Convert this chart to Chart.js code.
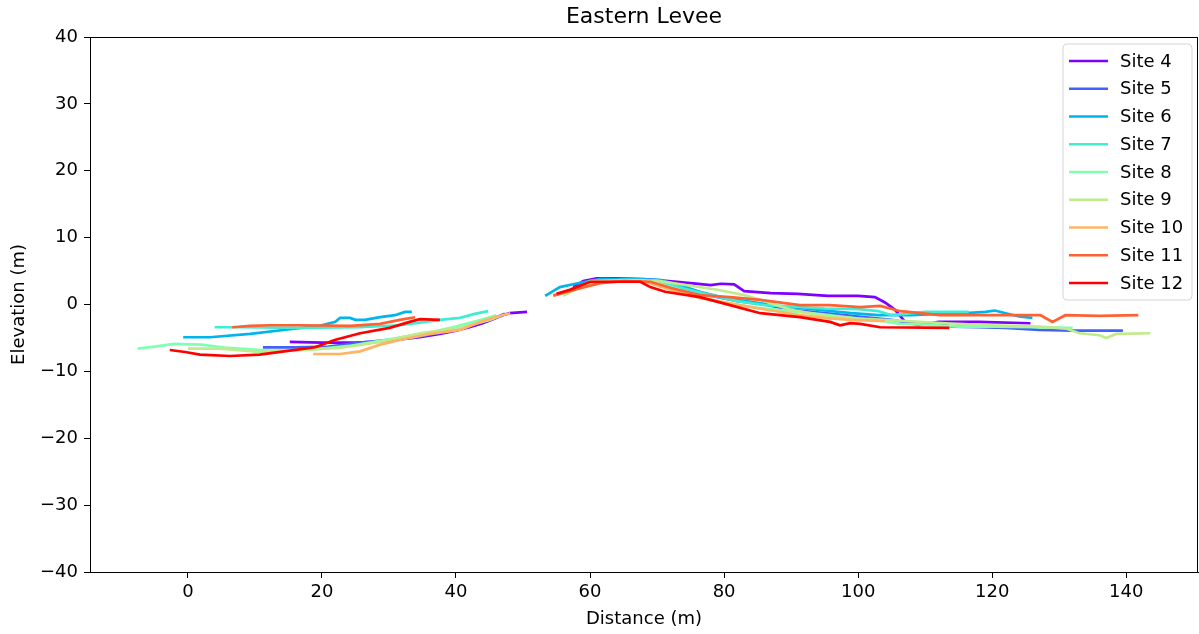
<!DOCTYPE html>
<html>
<head>
<meta charset="utf-8">
<script src="https://cdn.jsdelivr.net/npm/chart.js@4/dist/chart.umd.min.js"></script>
<style>
  body { margin: 0; background: #fff; }
  #wrap { width: 1199px; height: 634px; }
</style>
</head>
<body>
<div id="wrap"><canvas id="leveeChart" width="1199" height="634"></canvas></div>
<script>
// Perfiles del dique este: cada sitio tiene un tramo izquierdo y otro derecho (null = hueco)
const siteNames = ['Site 4', 'Site 5', 'Site 6', 'Site 7', 'Site 8', 'Site 9', 'Site 10', 'Site 11', 'Site 12'];
const siteColors = ['#8000ff', '#4062fa', '#00b4ec', '#40ecd4', '#80ffb4', '#c0eb8d', '#ffb462', '#ff6232', '#ff0000'];

const site4X = [15.2, 20, 25, 28, 31, 34.6, 37.6, 40, 42, 44, 45.8, 47, 48, 50.6, null,
  57.5, 59, 61, 64, 68, 70.4, 73, 75, 78, 79.5, 81.5, 83, 87, 91, 95.5, 100, 102.5, 104, 105.5, 107, 109, 112, 118, 125.7];
const site4Y = [-5.6, -5.7, -5.7, -5.6, -5.3, -4.9, -4.4, -3.9, -3.4, -2.8, -2.1, -1.6, -1.3, -1.1, null,
  2.6, 3.5, 3.9, 3.9, 3.8, 3.6, 3.4, 3.2, 2.9, 3.1, 3.0, 2.0, 1.7, 1.6, 1.3, 1.3, 1.1, 0.3, -0.8, -2.6, -3.1, -2.6, -2.6, -2.8];

const site5X = [11.2, 16, 21, 25.7, 30, 34, 37.6, 40.6, 42, 45, 47.3, null,
  56, 58, 60, 62, 70, 74, 78, 82, 86, 90, 95, 100, 105, 108, 112, 114, 118, 122, 127, 132, 139.5];
const site5Y = [-6.4, -6.4, -6.3, -5.7, -5.3, -4.9, -4.2, -3.6, -3.1, -2.3, -1.4, null,
  1.6, 2.6, 3.5, 3.8, 3.6, 2.6, 1.3, 0.5, 0, -0.8, -1.3, -1.8, -2.3, -2.8, -2.9, -3.3, -3.4, -3.5, -3.8, -3.9, -3.9];

const site6X = [-0.7, 3.3, 9.3, 15.2, 19.7, 22, 22.7, 24.2, 25, 26.4, 28.7, 30.9, 32.4, 33.4, null,
  53.3, 55.5, 57.8, 61.5, 66, 70.4, 73, 76.4, 80, 84, 88, 91.3, 95, 99, 103, 108, 112, 116, 119, 120.4, 122, 124, 126];
const site6Y = [-4.9, -4.9, -4.4, -3.7, -3.2, -2.6, -2.0, -2.0, -2.3, -2.3, -1.9, -1.6, -1.1, -1.1, null,
  1.3, 2.6, 3.1, 3.8, 3.8, 3.7, 3.0, 1.9, 1.0, 0.4, -0.2, -0.5, -0.9, -1.3, -1.6, -1.6, -1.4, -1.3, -1.1, -0.9, -1.3, -1.8, -2.0];

const site7X = [4, 7.8, 16.7, 25.7, 31.6, 34.6, 37.6, 40.6, 42.8, 44.8, null,
  56, 60, 65, 70, 74, 78, 82, 86, 90, 95, 100, 103, 105, 107, 110, 116.5];
const site7Y = [-3.4, -3.4, -3.5, -3.4, -3.1, -2.7, -2.3, -2.0, -1.4, -1.0, null,
  1.8, 3.3, 3.7, 3.6, 2.4, 1.4, 0.5, -0.1, -0.3, -0.6, -0.7, -1.0, -1.6, -1.4, -1.1, -1.1];

const site8X = [-7.5, -5, -2, 2, 6, 12, 18, 24, 30, 36, 40, 44, 46, null,
  56, 58, 61, 68, 72, 76, 80, 85, 90, 95, 100, 104, 106, 110, 115, 120, 126, 132];
const site8Y = [-6.6, -6.3, -5.9, -6.0, -6.5, -6.9, -6.8, -6.2, -5.2, -4.2, -3.3, -2.2, -1.6, null,
  1.4, 2.3, 3.5, 3.6, 2.6, 1.1, 0.2, -0.5, -1.0, -1.5, -2.1, -2.5, -2.9, -3.0, -3.3, -3.3, -3.4, -3.5];

const site9X = [0, 4.8, 10.7, 16.7, 22.7, 28.7, 34.6, 40.6, 45, 46.6, null,
  56, 57.5, 60, 70.4, 75, 79, 83, 86, 90, 95, 100, 106, 113, 120, 127, 131, 133, 136, 137, 138.5, 143.6];
const site9Y = [-6.6, -6.6, -7.1, -6.8, -6.5, -5.6, -4.3, -3.5, -2.3, -1.7, null,
  1.3, 2.1, 3.5, 3.5, 2.8, 2.2, 1.4, 0.5, -0.8, -1.7, -2.1, -2.4, -2.8, -3.1, -3.3, -3.6, -4.3, -4.6, -5.0, -4.4, -4.3];

const site10X = [18.7, 22.7, 25.7, 28.7, 31.6, 36.1, 40.6, 43.6, 45.8, 48.1, null,
  54.5, 57, 60, 68, 72, 76.4, 82.4, 87, 91.3, 95, 98.8, 104];
const site10Y = [-7.4, -7.4, -7.0, -6.0, -5.3, -4.4, -3.8, -2.6, -1.9, -1.3, null,
  1.4, 2.0, 3.3, 3.5, 2.2, 1.0, -0.1, -0.9, -1.6, -2.0, -2.3, -2.5];

const site11X = [6.6, 9.3, 12.2, 16.7, 24.2, 28.7, 31.6, 33.9, null,
  54.5, 58, 61.5, 65, 69, 72, 76.4, 80.9, 85.4, 91.3, 95.8, 100.3, 103.3, 106.3, 109.3, 112.2, 121, 127.2, 129, 130.9, 136, 141.8];
const site11Y = [-3.4, -3.2, -3.1, -3.1, -3.2, -2.9, -2.3, -1.9, null,
  1.3, 2.3, 3.2, 3.5, 3.4, 2.5, 1.4, 1.1, 0.7, -0.1, -0.1, -0.4, -0.2, -1.0, -1.3, -1.6, -1.6, -1.6, -2.6, -1.6, -1.7, -1.6];

const site12X = [-2.7, -0.4, 1.8, 6.3, 10.7, 15.2, 19, 21.9, 25.7, 30.1, 33.1, 34.6, 37.6, null,
  55, 57, 60, 67.5, 69, 71.2, 76.4, 80.9, 85.4, 91.3, 95.8, 97.3, 98.8, 100.3, 103.3, 113.6];
const site12Y = [-6.8, -7.1, -7.5, -7.7, -7.5, -6.9, -6.4, -5.3, -4.3, -3.5, -2.6, -2.2, -2.3, null,
  1.6, 2.2, 3.4, 3.4, 2.6, 1.9, 1.1, -0.1, -1.3, -1.9, -2.6, -3.1, -2.8, -2.9, -3.4, -3.5];

const siteXs = [site4X, site5X, site6X, site7X, site8X, site9X, site10X, site11X, site12X];
const siteYs = [site4Y, site5Y, site6Y, site7Y, site8Y, site9Y, site10Y, site11Y, site12Y];

const xTicks = [0, 20, 40, 60, 80, 100, 120, 140];
const yTicks = [-40, -30, -20, -10, 0, 10, 20, 30, 40];
const chartTitle = 'Eastern Levee';

const FONT = 'DejaVu Sans';

const datasets = siteNames.map((name, i) => ({
    label: name,
    data: siteXs[i].map((x, j) => ({ x: x, y: siteYs[i][j] })),
    borderColor: siteColors[i],
    backgroundColor: siteColors[i],
    borderWidth: 2.7,
    pointRadius: 0,
    showLine: true,
    spanGaps: false,
    tension: 0,
    order: siteNames.length - i
}));

// Título centrado en el área del gráfico, marco y leyenda estilo matplotlib
const framePlugin = {
    id: 'frame',
    afterDraw(chart) {
        const c = chart.ctx;
        const a = chart.chartArea;
        c.save();
        c.strokeStyle = '#000';
        c.lineWidth = 1;
        c.strokeRect(a.left + 0.5, a.top + 0.5, a.right - a.left - 1, a.bottom - a.top);

        c.fillStyle = '#000';
        c.font = '22px "' + FONT + '"';
        c.textAlign = 'center';
        c.textBaseline = 'middle';
        c.fillText(chartTitle, (a.left + a.right) / 2, 17);

        // leyenda
        const bx = 1063, by = 44, bw = 129, bh = 256, r = 4;
        c.beginPath();
        c.moveTo(bx + r, by);
        c.arcTo(bx + bw, by, bx + bw, by + bh, r);
        c.arcTo(bx + bw, by + bh, bx, by + bh, r);
        c.arcTo(bx, by + bh, bx, by, r);
        c.arcTo(bx, by, bx + bw, by, r);
        c.closePath();
        c.fillStyle = 'rgba(255,255,255,0.8)';
        c.fill();
        c.strokeStyle = '#d5d5d5';
        c.lineWidth = 1;
        c.stroke();

        c.font = '18px "' + FONT + '"';
        c.textBaseline = 'middle';
        c.textAlign = 'left';
        siteNames.forEach((name, i) => {
            const y = 61 + i * 27.75;
            c.strokeStyle = siteColors[i];
            c.lineWidth = 2.7;
            c.beginPath();
            c.moveTo(1069, y);
            c.lineTo(1108, y);
            c.stroke();
            c.fillStyle = '#000';
            c.fillText(name, 1120, y + 1);
        });
        c.restore();
    }
};

const ctx = document.getElementById('leveeChart').getContext('2d');
const leveeChart = new Chart(ctx, {
    type: 'scatter',
    data: { datasets: datasets },
    options: {
        responsive: false,
        animation: false,
        layout: { padding: { left: 0, right: 1, top: 37, bottom: 0 } },
        plugins: {
            legend: { display: false },
            tooltip: { enabled: false },
            title: { display: false }
        },
        scales: {
            x: {
                type: 'linear',
                min: -14.6,
                max: 150.7,
                afterBuildTicks: (s) => { s.ticks = xTicks.map(v => ({ value: v })); },
                afterFit: (s) => { s.height = 62; },
                grid: { drawOnChartArea: false, drawTicks: true, tickLength: 6, color: '#000' },
                border: { display: true, color: '#000', width: 1 },
                ticks: {
                    color: '#000',
                    padding: 4,
                    maxRotation: 0,
                    font: { family: FONT, size: 18 },
                    callback: (v) => String(v).replace('-', '\u2212')
                },
                title: {
                    display: true,
                    text: 'Distance (m)',
                    color: '#000',
                    font: { family: FONT, size: 18 },
                    padding: { top: 0, bottom: 4 }
                }
            },
            y: {
                type: 'linear',
                min: -40,
                max: 40,
                afterBuildTicks: (s) => { s.ticks = yTicks.map(v => ({ value: v })); },
                afterFit: (s) => { s.width = 90; },
                grid: { drawOnChartArea: false, drawTicks: true, tickLength: 6, color: '#000' },
                border: { display: true, color: '#000', width: 1 },
                ticks: {
                    color: '#000',
                    padding: 6,
                    font: { family: FONT, size: 18 },
                    callback: (v) => String(v).replace('-', '\u2212')
                },
                title: {
                    display: true,
                    text: 'Elevation (m)',
                    color: '#000',
                    font: { family: FONT, size: 18 },
                    padding: { top: 9, bottom: 0 }
                }
            }
        }
    },
    plugins: [framePlugin]
});
</script>
</body>
</html>
